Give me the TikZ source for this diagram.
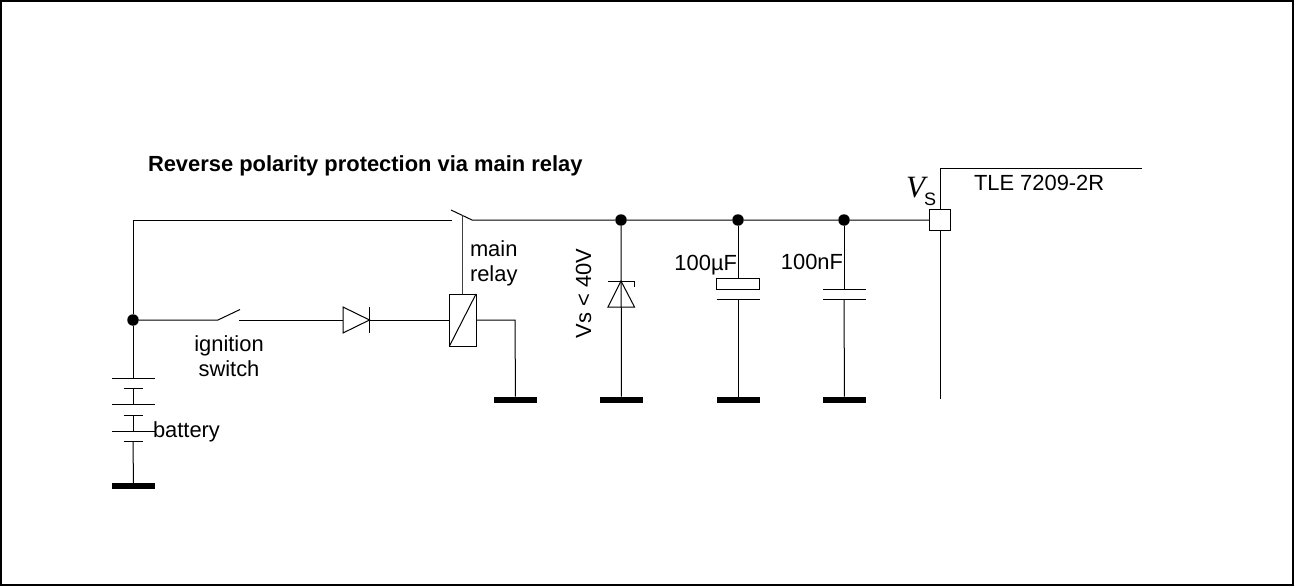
\documentclass[tikz,border=0pt]{standalone}
\usepackage{fontspec}
\setmainfont{Liberation Sans}
\newfontfamily\timesf{Liberation Serif}
\tikzset{
  x=1pt,y=-1pt,
  wire/.style={line width=1pt,line cap=butt},
  plate/.style={line width=1pt},
  gndbar/.style={fill=black,draw=none,minimum width=43pt,minimum height=6pt,inner sep=0pt,outer sep=0pt,rectangle},
  junction/.style={circle,fill=black,draw=none,minimum size=11.5pt,inner sep=0pt,outer sep=0pt},
  lbl/.style={font=\fontsize{21.9}{22}\selectfont,inner sep=0pt,outer sep=0pt},
  boxed/.style={draw=black,line width=1pt,fill=white,inner sep=0pt,outer sep=0pt,rectangle},
}
\begin{document}
\begin{tikzpicture}
\useasboundingbox (0,0) rectangle (1294,586);
\node[draw=black,line width=1.6pt,rectangle,minimum width=1292pt,minimum height=584pt,inner sep=0pt,outer sep=0pt] (frame) at (647,293) {};

% junctions and grounds
\node[junction] (jb) at (133,320) {};
\node[junction] (j1) at (621,220) {};
\node[junction] (j2) at (738,220) {};
\node[junction] (j3) at (844,220) {};
\node[gndbar] (gb) at (133.5,486) {};
\node[gndbar] (gr) at (515.5,399.5) {};
\node[gndbar] (gz) at (621.5,399.5) {};
\node[gndbar] (gc1) at (738,399.5) {};
\node[gndbar] (gc2) at (844.5,399.5) {};

% IC
\coordinate (ictr) at (1142,168);
\coordinate (ictl) at (940,168);
\coordinate (icb) at (940,399);
\draw[wire] (ictr) -- (ictl) -- (icb);
\node[boxed,minimum width=21.5pt,minimum height=21.5pt] (pin) at (940,220) {};

% main relay switch and top wire
\coordinate (tl) at (133,220);
\coordinate (sw1) at (452,220);
\coordinate (sw2) at (472,220);
\coordinate (bl) at (451,210);
\draw[wire] (jb) -- (tl) -- (sw1);
\draw[wire] (bl) -- (sw2) -- (j1) -- (j2) -- (j3) -- (pin);

% relay coil
\node[boxed,minimum width=26.5pt,minimum height=52pt] (coil) at (462.75,320) {};
\draw[wire] (coil.south west) -- (coil.north east);
\coordinate (lnk) at (462.5,215);
\draw[line width=1.3pt,draw=black!75] (lnk) -- (lnk |- coil.north);
\coordinate (cr) at (515,320);
\draw[wire] (coil.east) -- (cr) -- (gr);

% ignition switch and diode
\coordinate (is1) at (218,320);
\coordinate (is2) at (240,309.5);
\coordinate (is3) at (239,320);
\draw[wire] (jb) -- (is1) -- (is2);
\coordinate (da) at (343,320);
\coordinate (dk) at (369.5,320);
\draw[wire] (is3) -- (da);
\draw[wire] (343,307) -- (343,333) -- (dk) -- cycle;
\draw[wire] (369.5,307) -- (369.5,333);
\draw[wire] (dk) -- (coil.west);

% battery
\coordinate (b1) at (133,378.5);
\coordinate (b2) at (133,388.5);
\coordinate (b3) at (133,404);
\coordinate (b4) at (133,415);
\coordinate (b5) at (133,431);
\coordinate (b6) at (133,441);
\draw[wire] (jb) -- (b1);
\draw[wire] (b2) -- (b3);
\draw[wire] (b4) -- (b5);
\draw[wire] (b6) -- (gb);
\draw[plate] (112,378.5) -- (155,378.5);
\draw[plate] (123.5,388.5) -- (143,388.5);
\draw[plate] (112,404) -- (155,404);
\draw[plate] (123.5,415) -- (143,415);
\draw[plate] (112,431) -- (155,431);
\draw[plate] (123.5,441) -- (143,441);

% zener
\draw[wire] (j1) -- (gz);
\draw[wire] (608,307) -- (634.5,307) -- (621,281) -- cycle;
\draw[wire] (608,281) -- (634.5,281) -- (634.5,287);

% electrolytic capacitor
\node[boxed,minimum width=43pt,minimum height=10.5pt] (c1p) at (738,283.75) {};
\coordinate (c1b) at (738,299.5);
\draw[wire] (j2) -- (c1p);
\draw[wire] (c1b) -- (gc1);
\draw[plate] (716.5,299.5) -- (759.5,299.5);

% capacitor
\coordinate (c2a) at (844,289);
\coordinate (c2b) at (844,299.5);
\draw[wire] (j3) -- (c2a);
\draw[wire] (c2b) -- (gc2);
\draw[plate] (823,289) -- (866,289);
\draw[plate] (823,299.5) -- (866,299.5);

% labels
\node[lbl,anchor=base west,font=\fontsize{21.9}{22}\selectfont\bfseries] (title) at (148,171) {Reverse polarity protection via main relay};
\node[lbl,anchor=base] (ign) at (229,351) {ignition};
\node[lbl,anchor=base] (swi) at (229,376.5) {switch};
\node[lbl,anchor=base west] (bat) at (153,437.5) {battery};
\node[lbl,anchor=base west] (mai) at (470,256) {main};
\node[lbl,anchor=base west] (rel) at (470,281.5) {relay};
\node[lbl,anchor=base,rotate=90] (vs) at (591,293.5) {Vs < 40V};
\node[lbl,anchor=base east] (cu) at (737,270.5) {100µF};
\node[lbl,anchor=base east] (cn) at (843,269) {100nF};
\node[lbl,anchor=base west] (tle) at (974,190) {TLE 7209-2R};
\node[anchor=base west,inner sep=0pt,outer sep=0pt,font=\fontsize{31}{31}\selectfont\timesf\itshape] (vv) at (906,197) {V};
\node[lbl,anchor=base west,font=\fontsize{18}{18}\selectfont] (vsub) at (924,205) {S};
\end{tikzpicture}
\end{document}
